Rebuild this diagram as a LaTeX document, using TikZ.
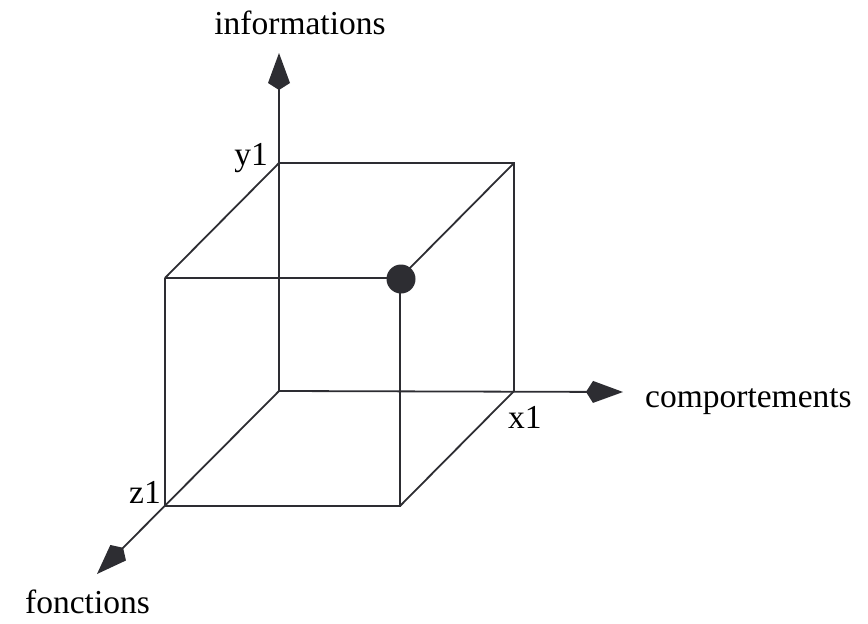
\documentclass[tikz,border=0pt]{standalone}
\usepackage{fontspec}
\setmainfont{Liberation Serif}
\usetikzlibrary{arrows.meta}
\definecolor{lc}{RGB}{45,45,50}
\begin{document}
\begin{tikzpicture}[x=1pt,y=-1pt,
  edge/.style={draw=lc,line width=1.8pt},
  axis/.style={edge,-{Kite[length=37pt,width=22pt,inset=7pt,fill=lc]}},
  lab/.style={font=\fontsize{33.5}{40}\selectfont,text=black,inner sep=0pt,anchor=base}]
\useasboundingbox (0,0) rectangle (868,624);
% back face
\coordinate (O) at (279,391);
\coordinate (Y1) at (279,163);
\coordinate (X1) at (514,391);
\coordinate (XY) at (514,163);
% front face
\coordinate (Z1) at (165,506);
\coordinate (ZY) at (165,278);
\coordinate (ZX) at (400,506);
\coordinate (P) at (400,278);
% axis ends
\coordinate (Ytip) at (279,53);
\coordinate (Xtip) at (623,392);
\coordinate (Ztip) at (97,574);
% cube
\draw[edge] (Y1) -- (XY) -- (X1);
\draw[edge] (ZY) -- (P) -- (ZX) -- (Z1) -- (ZY);
\draw[edge] (Y1) -- (ZY);
\draw[edge] (XY) -- (P);
\draw[edge] (X1) -- (ZX);
% axes
\draw[axis] (O) -- (Ytip);
\draw[axis] (O) -- (Xtip);
\draw[axis] (O) -- (Ztip);
% point
\node[circle,fill=lc,minimum size=29pt,inner sep=0pt] (dot) at (401,279) {};
% labels
\node[lab] (li) at (300,34) {informations};
\node[lab,anchor=base west] (lc) at (645,407) {comportements};
\node[lab,anchor=base west] (lf) at (25,613) {fonctions};
\node[lab,anchor=base east] (ly) at (268,165) {y1};
\node[lab,anchor=base west] (lx) at (508,428) {x1};
\node[lab,anchor=base east] (lz) at (161,503) {z1};
\end{tikzpicture}
\end{document}
